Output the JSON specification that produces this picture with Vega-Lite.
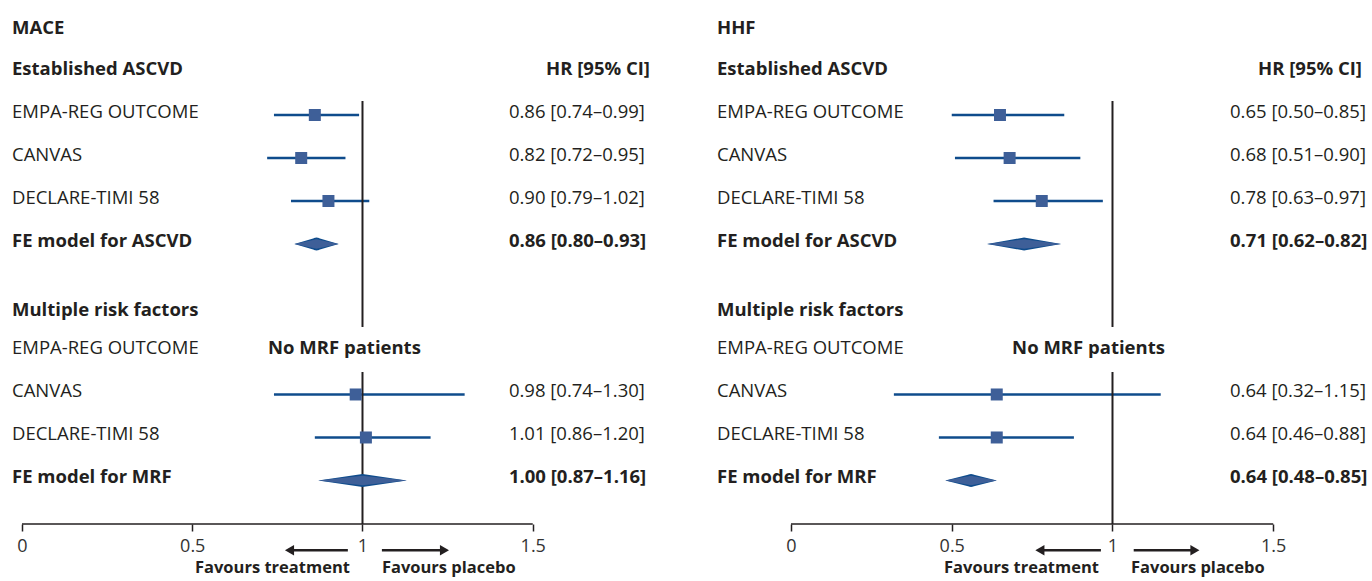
{
  "$schema": "https://vega.github.io/schema/vega-lite/v6.json",
  "padding": 0,
  "spacing": 0,
  "bounds": "flush",
  "background": "white",
  "config": {
    "view": {"stroke": null},
    "font": "Open Sans",
    "text": {"font": "Open Sans", "fontSize": 18.5, "color": "#231f20", "baseline": "middle"},
    "axisX": {"domain": false, "grid": false, "ticks": true, "tickSize": 7, "tickWidth": 1.5, "tickColor": "#231f20", "labelFont": "Open Sans", "labelFontSize": 18, "labelColor": "#333333", "labelPadding": 6, "labelFlush": false, "labelOverlap": false}
  },
  "datasets": {
    "labels": [
      {"outcome": "MACE", "row": 0.05, "text": "MACE", "kind": "title"},
      {"outcome": "MACE", "row": 1, "text": "Established ASCVD", "kind": "group"},
      {"outcome": "MACE", "row": 2, "text": "EMPA-REG OUTCOME", "kind": "study"},
      {"outcome": "MACE", "row": 3, "text": "CANVAS", "kind": "study"},
      {"outcome": "MACE", "row": 4, "text": "DECLARE-TIMI 58", "kind": "study"},
      {"outcome": "MACE", "row": 5, "text": "FE model for ASCVD", "kind": "pooled"},
      {"outcome": "MACE", "row": 6.6, "text": "Multiple risk factors", "kind": "group"},
      {"outcome": "MACE", "row": 7.5, "text": "EMPA-REG OUTCOME", "kind": "study"},
      {"outcome": "MACE", "row": 8.5, "text": "CANVAS", "kind": "study"},
      {"outcome": "MACE", "row": 9.5, "text": "DECLARE-TIMI 58", "kind": "study"},
      {"outcome": "MACE", "row": 10.5, "text": "FE model for MRF", "kind": "pooled"},
      {"outcome": "HHF", "row": 0.05, "text": "HHF", "kind": "title"},
      {"outcome": "HHF", "row": 1, "text": "Established ASCVD", "kind": "group"},
      {"outcome": "HHF", "row": 2, "text": "EMPA-REG OUTCOME", "kind": "study"},
      {"outcome": "HHF", "row": 3, "text": "CANVAS", "kind": "study"},
      {"outcome": "HHF", "row": 4, "text": "DECLARE-TIMI 58", "kind": "study"},
      {"outcome": "HHF", "row": 5, "text": "FE model for ASCVD", "kind": "pooled"},
      {"outcome": "HHF", "row": 6.6, "text": "Multiple risk factors", "kind": "group"},
      {"outcome": "HHF", "row": 7.5, "text": "EMPA-REG OUTCOME", "kind": "study"},
      {"outcome": "HHF", "row": 8.5, "text": "CANVAS", "kind": "study"},
      {"outcome": "HHF", "row": 9.5, "text": "DECLARE-TIMI 58", "kind": "study"},
      {"outcome": "HHF", "row": 10.5, "text": "FE model for MRF", "kind": "pooled"}
    ],
    "studies": [
      {"outcome": "MACE", "row": 2, "study": "EMPA-REG OUTCOME", "hr": 0.86, "lo": 0.74, "hi": 0.99, "ci": "0.86 [0.74–0.99]"},
      {"outcome": "MACE", "row": 3, "study": "CANVAS", "hr": 0.82, "lo": 0.72, "hi": 0.95, "ci": "0.82 [0.72–0.95]"},
      {"outcome": "MACE", "row": 4, "study": "DECLARE-TIMI 58", "hr": 0.90, "lo": 0.79, "hi": 1.02, "ci": "0.90 [0.79–1.02]"},
      {"outcome": "MACE", "row": 8.5, "study": "CANVAS", "hr": 0.98, "lo": 0.74, "hi": 1.30, "ci": "0.98 [0.74–1.30]"},
      {"outcome": "MACE", "row": 9.5, "study": "DECLARE-TIMI 58", "hr": 1.01, "lo": 0.86, "hi": 1.20, "ci": "1.01 [0.86–1.20]"},
      {"outcome": "HHF", "row": 2, "study": "EMPA-REG OUTCOME", "hr": 0.65, "lo": 0.50, "hi": 0.85, "ci": "0.65 [0.50–0.85]"},
      {"outcome": "HHF", "row": 3, "study": "CANVAS", "hr": 0.68, "lo": 0.51, "hi": 0.90, "ci": "0.68 [0.51–0.90]"},
      {"outcome": "HHF", "row": 4, "study": "DECLARE-TIMI 58", "hr": 0.78, "lo": 0.63, "hi": 0.97, "ci": "0.78 [0.63–0.97]"},
      {"outcome": "HHF", "row": 8.5, "study": "CANVAS", "hr": 0.64, "lo": 0.32, "hi": 1.15, "ci": "0.64 [0.32–1.15]"},
      {"outcome": "HHF", "row": 9.5, "study": "DECLARE-TIMI 58", "hr": 0.64, "lo": 0.46, "hi": 0.88, "ci": "0.64 [0.46–0.88]"}
    ],
    "pooled": [
      {"outcome": "MACE", "row": 5, "model": "FE model for ASCVD", "lo": 0.80, "est": 0.865, "hi": 0.93, "ci": "0.86 [0.80–0.93]"},
      {"outcome": "MACE", "row": 10.5, "model": "FE model for MRF", "lo": 0.87, "est": 1.00, "hi": 1.13, "ci": "1.00 [0.87–1.16]"},
      {"outcome": "HHF", "row": 5, "model": "FE model for ASCVD", "lo": 0.61, "est": 0.725, "hi": 0.84, "ci": "0.71 [0.62–0.82]"},
      {"outcome": "HHF", "row": 10.5, "model": "FE model for MRF", "lo": 0.48, "est": 0.56, "hi": 0.64, "ci": "0.64 [0.48–0.85]"}
    ]
  },
  "hconcat": [
    {
      "width": 686,
      "height": 524,
      "layer": [
        {"data": {"name": "studies"}, "transform": [{"filter": "datum.outcome === 'MACE'"}],
         "mark": {"type": "rule", "color": "#0f4c8c", "strokeWidth": 2.6},
         "encoding": {"x": {"field": "lo", "type": "quantitative", "scale": {"domain": [-0.0646, 1.9501], "nice": false, "zero": false}, "axis": {"values": [0, 0.5, 1, 1.5], "format": "~g", "title": null}},
                      "x2": {"field": "hi"},
                      "y": {"field": "row", "type": "quantitative", "scale": {"domain": [-0.674, 11.512], "reverse": true, "nice": false, "zero": false}, "axis": null}}},
        {"data": {"values": [{}]}, "mark": {"type": "rule", "color": "#231f20", "strokeWidth": 2},
         "encoding": {"x": {"datum": 1, "type": "quantitative", "scale": {"domain": [-0.0646, 1.9501], "nice": false, "zero": false}, "axis": {"values": [0, 0.5, 1, 1.5], "format": "~g", "title": null}},
                      "y": {"datum": 1.675, "type": "quantitative", "scale": {"domain": [-0.674, 11.512], "reverse": true, "nice": false, "zero": false}, "axis": null},
                      "y2": {"datum": 6.93}}},
        {"data": {"values": [{}]}, "mark": {"type": "rule", "color": "#231f20", "strokeWidth": 2},
         "encoding": {"x": {"datum": 1, "type": "quantitative", "scale": {"domain": [-0.0646, 1.9501], "nice": false, "zero": false}, "axis": {"values": [0, 0.5, 1, 1.5], "format": "~g", "title": null}},
                      "y": {"datum": 7.977, "type": "quantitative", "scale": {"domain": [-0.674, 11.512], "reverse": true, "nice": false, "zero": false}, "axis": null},
                      "y2": {"datum": 11.512}}},
        {"data": {"values": [{}]}, "mark": {"type": "rule", "color": "#231f20", "strokeWidth": 1.5},
         "encoding": {"x": {"datum": 0, "type": "quantitative", "scale": {"domain": [-0.0646, 1.9501], "nice": false, "zero": false}, "axis": {"values": [0, 0.5, 1, 1.5], "format": "~g", "title": null}},
                      "x2": {"datum": 1.5},
                      "y": {"datum": 11.512, "type": "quantitative", "scale": {"domain": [-0.674, 11.512], "reverse": true, "nice": false, "zero": false}, "axis": null}}},
        {"data": {"name": "studies"}, "transform": [{"filter": "datum.outcome === 'MACE'"}],
         "mark": {"type": "point", "shape": "square", "filled": true, "size": 144, "color": "#3e5f98", "opacity": 1},
         "encoding": {"x": {"field": "hr", "type": "quantitative", "scale": {"domain": [-0.0646, 1.9501], "nice": false, "zero": false}, "axis": {"values": [0, 0.5, 1, 1.5], "format": "~g", "title": null}},
                      "y": {"field": "row", "type": "quantitative", "scale": {"domain": [-0.674, 11.512], "reverse": true, "nice": false, "zero": false}, "axis": null}}},
        {"data": {"name": "pooled"}, "transform": [{"filter": "datum.outcome === 'MACE'"}, {"fold": ["lo", "est", "hi"], "as": ["key", "value"]}],
         "mark": {"type": "trail", "color": "#0f4c8c", "fill": "#0f4c8c"},
         "encoding": {"x": {"field": "value", "type": "quantitative", "scale": {"domain": [-0.0646, 1.9501], "nice": false, "zero": false}, "axis": {"values": [0, 0.5, 1, 1.5], "format": "~g", "title": null}},
                      "y": {"field": "row", "type": "quantitative", "scale": {"domain": [-0.674, 11.512], "reverse": true, "nice": false, "zero": false}, "axis": null},
                      "detail": {"field": "row", "type": "nominal"},
                      "size": {"condition": {"test": "datum.key === 'est'", "value": 13}, "value": 0.1}}},
        {"data": {"name": "pooled"}, "transform": [{"filter": "datum.outcome === 'MACE'"}, {"fold": ["lo", "est", "hi"], "as": ["key", "value"]}],
         "mark": {"type": "trail", "color": "#3e5f98", "fill": "#3e5f98"},
         "encoding": {"x": {"field": "value", "type": "quantitative", "scale": {"domain": [-0.0646, 1.9501], "nice": false, "zero": false}, "axis": {"values": [0, 0.5, 1, 1.5], "format": "~g", "title": null}},
                      "y": {"field": "row", "type": "quantitative", "scale": {"domain": [-0.674, 11.512], "reverse": true, "nice": false, "zero": false}, "axis": null},
                      "detail": {"field": "row", "type": "nominal"},
                      "size": {"condition": {"test": "datum.key === 'est'", "value": 9.5}, "value": 0.1}}},
        {"data": {"name": "labels"}, "transform": [{"filter": "datum.outcome === 'MACE' && datum.kind === 'study'"}],
         "mark": {"type": "text", "align": "left", "dy": -3},
         "encoding": {"x": {"datum": -0.0294, "type": "quantitative", "scale": {"domain": [-0.0646, 1.9501], "nice": false, "zero": false}, "axis": {"values": [0, 0.5, 1, 1.5], "format": "~g", "title": null}},
                      "y": {"field": "row", "type": "quantitative", "scale": {"domain": [-0.674, 11.512], "reverse": true, "nice": false, "zero": false}, "axis": null},
                      "text": {"field": "text"}}},
        {"data": {"name": "labels"}, "transform": [{"filter": "datum.outcome === 'MACE' && datum.kind !== 'study'"}],
         "mark": {"type": "text", "align": "left", "dy": -3, "fontWeight": "bold"},
         "encoding": {"x": {"datum": -0.0294, "type": "quantitative", "scale": {"domain": [-0.0646, 1.9501], "nice": false, "zero": false}, "axis": {"values": [0, 0.5, 1, 1.5], "format": "~g", "title": null}},
                      "y": {"field": "row", "type": "quantitative", "scale": {"domain": [-0.674, 11.512], "reverse": true, "nice": false, "zero": false}, "axis": null},
                      "text": {"field": "text"}}},
        {"data": {"name": "studies"}, "transform": [{"filter": "datum.outcome === 'MACE'"}],
         "mark": {"type": "text", "align": "left", "dy": -3},
         "encoding": {"x": {"datum": 1.430, "type": "quantitative", "scale": {"domain": [-0.0646, 1.9501], "nice": false, "zero": false}, "axis": {"values": [0, 0.5, 1, 1.5], "format": "~g", "title": null}},
                      "y": {"field": "row", "type": "quantitative", "scale": {"domain": [-0.674, 11.512], "reverse": true, "nice": false, "zero": false}, "axis": null},
                      "text": {"field": "ci"}}},
        {"data": {"name": "pooled"}, "transform": [{"filter": "datum.outcome === 'MACE'"}],
         "mark": {"type": "text", "align": "left", "dy": -3, "fontWeight": "bold"},
         "encoding": {"x": {"datum": 1.430, "type": "quantitative", "scale": {"domain": [-0.0646, 1.9501], "nice": false, "zero": false}, "axis": {"values": [0, 0.5, 1, 1.5], "format": "~g", "title": null}},
                      "y": {"field": "row", "type": "quantitative", "scale": {"domain": [-0.674, 11.512], "reverse": true, "nice": false, "zero": false}, "axis": null},
                      "text": {"field": "ci"}}},
        {"data": {"values": [{}]},
         "mark": {"type": "text", "align": "right", "dy": -3, "fontWeight": "bold", "text": "HR [95% CI]"},
         "encoding": {"x": {"datum": 1.8443, "type": "quantitative", "scale": {"domain": [-0.0646, 1.9501], "nice": false, "zero": false}, "axis": {"values": [0, 0.5, 1, 1.5], "format": "~g", "title": null}},
                      "y": {"datum": 1, "type": "quantitative", "scale": {"domain": [-0.674, 11.512], "reverse": true, "nice": false, "zero": false}, "axis": null}}},
        {"data": {"values": [{}]},
         "mark": {"type": "text", "align": "center", "dy": -3, "fontWeight": "bold", "text": "No MRF patients"},
         "encoding": {"x": {"datum": 0.947, "type": "quantitative", "scale": {"domain": [-0.0646, 1.9501], "nice": false, "zero": false}, "axis": {"values": [0, 0.5, 1, 1.5], "format": "~g", "title": null}},
                      "y": {"datum": 7.5, "type": "quantitative", "scale": {"domain": [-0.674, 11.512], "reverse": true, "nice": false, "zero": false}, "axis": null}}},
        {"data": {"values": [{}]}, "mark": {"type": "rule", "color": "#231f20", "strokeWidth": 2.5},
         "encoding": {"x": {"datum": 0.957, "type": "quantitative", "scale": {"domain": [-0.0646, 1.9501], "nice": false, "zero": false}, "axis": {"values": [0, 0.5, 1, 1.5], "format": "~g", "title": null}},
                      "x2": {"datum": 0.79},
                      "y": {"datum": 12.12, "type": "quantitative", "scale": {"domain": [-0.674, 11.512], "reverse": true, "nice": false, "zero": false}, "axis": null}}},
        {"data": {"values": [{}]}, "mark": {"type": "rule", "color": "#231f20", "strokeWidth": 2.5},
         "encoding": {"x": {"datum": 1.057, "type": "quantitative", "scale": {"domain": [-0.0646, 1.9501], "nice": false, "zero": false}, "axis": {"values": [0, 0.5, 1, 1.5], "format": "~g", "title": null}},
                      "x2": {"datum": 1.236},
                      "y": {"datum": 12.12, "type": "quantitative", "scale": {"domain": [-0.674, 11.512], "reverse": true, "nice": false, "zero": false}, "axis": null}}},
        {"data": {"values": [{}]}, "mark": {"type": "point", "shape": "triangle-left", "filled": true, "size": 110, "color": "#231f20", "opacity": 1},
         "encoding": {"x": {"datum": 0.7856, "type": "quantitative", "scale": {"domain": [-0.0646, 1.9501], "nice": false, "zero": false}, "axis": {"values": [0, 0.5, 1, 1.5], "format": "~g", "title": null}},
                      "y": {"datum": 12.12, "type": "quantitative", "scale": {"domain": [-0.674, 11.512], "reverse": true, "nice": false, "zero": false}, "axis": null}}},
        {"data": {"values": [{}]}, "mark": {"type": "point", "shape": "triangle-right", "filled": true, "size": 110, "color": "#231f20", "opacity": 1},
         "encoding": {"x": {"datum": 1.2408, "type": "quantitative", "scale": {"domain": [-0.0646, 1.9501], "nice": false, "zero": false}, "axis": {"values": [0, 0.5, 1, 1.5], "format": "~g", "title": null}},
                      "y": {"datum": 12.12, "type": "quantitative", "scale": {"domain": [-0.674, 11.512], "reverse": true, "nice": false, "zero": false}, "axis": null}}},
        {"data": {"values": [{}]},
         "mark": {"type": "text", "align": "right", "fontWeight": "bold", "fontSize": 16.5, "text": "Favours treatment"},
         "encoding": {"x": {"datum": 0.963, "type": "quantitative", "scale": {"domain": [-0.0646, 1.9501], "nice": false, "zero": false}, "axis": {"values": [0, 0.5, 1, 1.5], "format": "~g", "title": null}},
                      "y": {"datum": 12.53, "type": "quantitative", "scale": {"domain": [-0.674, 11.512], "reverse": true, "nice": false, "zero": false}, "axis": null}}},
        {"data": {"values": [{}]},
         "mark": {"type": "text", "align": "left", "fontWeight": "bold", "fontSize": 16.5, "text": "Favours placebo"},
         "encoding": {"x": {"datum": 1.057, "type": "quantitative", "scale": {"domain": [-0.0646, 1.9501], "nice": false, "zero": false}, "axis": {"values": [0, 0.5, 1, 1.5], "format": "~g", "title": null}},
                      "y": {"datum": 12.53, "type": "quantitative", "scale": {"domain": [-0.674, 11.512], "reverse": true, "nice": false, "zero": false}, "axis": null}}}
      ]
    },
    {
      "width": 686,
      "height": 524,
      "layer": [
        {"data": {"name": "studies"}, "transform": [{"filter": "datum.outcome === 'HHF'"}],
         "mark": {"type": "rule", "color": "#0f4c8c", "strokeWidth": 2.6},
         "encoding": {"x": {"field": "lo", "type": "quantitative", "scale": {"domain": [-0.3266, 1.8072], "nice": false, "zero": false}, "axis": {"values": [0, 0.5, 1, 1.5], "format": "~g", "title": null}},
                      "x2": {"field": "hi"},
                      "y": {"field": "row", "type": "quantitative", "scale": {"domain": [-0.674, 11.512], "reverse": true, "nice": false, "zero": false}, "axis": null}}},
        {"data": {"values": [{}]}, "mark": {"type": "rule", "color": "#231f20", "strokeWidth": 2},
         "encoding": {"x": {"datum": 1, "type": "quantitative", "scale": {"domain": [-0.3266, 1.8072], "nice": false, "zero": false}, "axis": {"values": [0, 0.5, 1, 1.5], "format": "~g", "title": null}},
                      "y": {"datum": 1.675, "type": "quantitative", "scale": {"domain": [-0.674, 11.512], "reverse": true, "nice": false, "zero": false}, "axis": null},
                      "y2": {"datum": 6.93}}},
        {"data": {"values": [{}]}, "mark": {"type": "rule", "color": "#231f20", "strokeWidth": 2},
         "encoding": {"x": {"datum": 1, "type": "quantitative", "scale": {"domain": [-0.3266, 1.8072], "nice": false, "zero": false}, "axis": {"values": [0, 0.5, 1, 1.5], "format": "~g", "title": null}},
                      "y": {"datum": 7.977, "type": "quantitative", "scale": {"domain": [-0.674, 11.512], "reverse": true, "nice": false, "zero": false}, "axis": null},
                      "y2": {"datum": 11.512}}},
        {"data": {"values": [{}]}, "mark": {"type": "rule", "color": "#231f20", "strokeWidth": 1.5},
         "encoding": {"x": {"datum": 0, "type": "quantitative", "scale": {"domain": [-0.3266, 1.8072], "nice": false, "zero": false}, "axis": {"values": [0, 0.5, 1, 1.5], "format": "~g", "title": null}},
                      "x2": {"datum": 1.5},
                      "y": {"datum": 11.512, "type": "quantitative", "scale": {"domain": [-0.674, 11.512], "reverse": true, "nice": false, "zero": false}, "axis": null}}},
        {"data": {"name": "studies"}, "transform": [{"filter": "datum.outcome === 'HHF'"}],
         "mark": {"type": "point", "shape": "square", "filled": true, "size": 144, "color": "#3e5f98", "opacity": 1},
         "encoding": {"x": {"field": "hr", "type": "quantitative", "scale": {"domain": [-0.3266, 1.8072], "nice": false, "zero": false}, "axis": {"values": [0, 0.5, 1, 1.5], "format": "~g", "title": null}},
                      "y": {"field": "row", "type": "quantitative", "scale": {"domain": [-0.674, 11.512], "reverse": true, "nice": false, "zero": false}, "axis": null}}},
        {"data": {"name": "pooled"}, "transform": [{"filter": "datum.outcome === 'HHF'"}, {"fold": ["lo", "est", "hi"], "as": ["key", "value"]}],
         "mark": {"type": "trail", "color": "#0f4c8c", "fill": "#0f4c8c"},
         "encoding": {"x": {"field": "value", "type": "quantitative", "scale": {"domain": [-0.3266, 1.8072], "nice": false, "zero": false}, "axis": {"values": [0, 0.5, 1, 1.5], "format": "~g", "title": null}},
                      "y": {"field": "row", "type": "quantitative", "scale": {"domain": [-0.674, 11.512], "reverse": true, "nice": false, "zero": false}, "axis": null},
                      "detail": {"field": "row", "type": "nominal"},
                      "size": {"condition": {"test": "datum.key === 'est'", "value": 13}, "value": 0.1}}},
        {"data": {"name": "pooled"}, "transform": [{"filter": "datum.outcome === 'HHF'"}, {"fold": ["lo", "est", "hi"], "as": ["key", "value"]}],
         "mark": {"type": "trail", "color": "#3e5f98", "fill": "#3e5f98"},
         "encoding": {"x": {"field": "value", "type": "quantitative", "scale": {"domain": [-0.3266, 1.8072], "nice": false, "zero": false}, "axis": {"values": [0, 0.5, 1, 1.5], "format": "~g", "title": null}},
                      "y": {"field": "row", "type": "quantitative", "scale": {"domain": [-0.674, 11.512], "reverse": true, "nice": false, "zero": false}, "axis": null},
                      "detail": {"field": "row", "type": "nominal"},
                      "size": {"condition": {"test": "datum.key === 'est'", "value": 9.5}, "value": 0.1}}},
        {"data": {"name": "labels"}, "transform": [{"filter": "datum.outcome === 'HHF' && datum.kind === 'study'"}],
         "mark": {"type": "text", "align": "left", "dy": -3},
         "encoding": {"x": {"datum": -0.2302, "type": "quantitative", "scale": {"domain": [-0.3266, 1.8072], "nice": false, "zero": false}, "axis": {"values": [0, 0.5, 1, 1.5], "format": "~g", "title": null}},
                      "y": {"field": "row", "type": "quantitative", "scale": {"domain": [-0.674, 11.512], "reverse": true, "nice": false, "zero": false}, "axis": null},
                      "text": {"field": "text"}}},
        {"data": {"name": "labels"}, "transform": [{"filter": "datum.outcome === 'HHF' && datum.kind !== 'study'"}],
         "mark": {"type": "text", "align": "left", "dy": -3, "fontWeight": "bold"},
         "encoding": {"x": {"datum": -0.2302, "type": "quantitative", "scale": {"domain": [-0.3266, 1.8072], "nice": false, "zero": false}, "axis": {"values": [0, 0.5, 1, 1.5], "format": "~g", "title": null}},
                      "y": {"field": "row", "type": "quantitative", "scale": {"domain": [-0.674, 11.512], "reverse": true, "nice": false, "zero": false}, "axis": null},
                      "text": {"field": "text"}}},
        {"data": {"name": "studies"}, "transform": [{"filter": "datum.outcome === 'HHF'"}],
         "mark": {"type": "text", "align": "left", "dy": -3},
         "encoding": {"x": {"datum": 1.3655, "type": "quantitative", "scale": {"domain": [-0.3266, 1.8072], "nice": false, "zero": false}, "axis": {"values": [0, 0.5, 1, 1.5], "format": "~g", "title": null}},
                      "y": {"field": "row", "type": "quantitative", "scale": {"domain": [-0.674, 11.512], "reverse": true, "nice": false, "zero": false}, "axis": null},
                      "text": {"field": "ci"}}},
        {"data": {"name": "pooled"}, "transform": [{"filter": "datum.outcome === 'HHF'"}],
         "mark": {"type": "text", "align": "left", "dy": -3, "fontWeight": "bold"},
         "encoding": {"x": {"datum": 1.3655, "type": "quantitative", "scale": {"domain": [-0.3266, 1.8072], "nice": false, "zero": false}, "axis": {"values": [0, 0.5, 1, 1.5], "format": "~g", "title": null}},
                      "y": {"field": "row", "type": "quantitative", "scale": {"domain": [-0.674, 11.512], "reverse": true, "nice": false, "zero": false}, "axis": null},
                      "text": {"field": "ci"}}},
        {"data": {"values": [{}]},
         "mark": {"type": "text", "align": "right", "dy": -3, "fontWeight": "bold", "text": "HR [95% CI]"},
         "encoding": {"x": {"datum": 1.776, "type": "quantitative", "scale": {"domain": [-0.3266, 1.8072], "nice": false, "zero": false}, "axis": {"values": [0, 0.5, 1, 1.5], "format": "~g", "title": null}},
                      "y": {"datum": 1, "type": "quantitative", "scale": {"domain": [-0.674, 11.512], "reverse": true, "nice": false, "zero": false}, "axis": null}}},
        {"data": {"values": [{}]},
         "mark": {"type": "text", "align": "center", "dy": -3, "fontWeight": "bold", "text": "No MRF patients"},
         "encoding": {"x": {"datum": 0.9253, "type": "quantitative", "scale": {"domain": [-0.3266, 1.8072], "nice": false, "zero": false}, "axis": {"values": [0, 0.5, 1, 1.5], "format": "~g", "title": null}},
                      "y": {"datum": 7.5, "type": "quantitative", "scale": {"domain": [-0.674, 11.512], "reverse": true, "nice": false, "zero": false}, "axis": null}}},
        {"data": {"values": [{}]}, "mark": {"type": "rule", "color": "#231f20", "strokeWidth": 2.5},
         "encoding": {"x": {"datum": 0.964, "type": "quantitative", "scale": {"domain": [-0.3266, 1.8072], "nice": false, "zero": false}, "axis": {"values": [0, 0.5, 1, 1.5], "format": "~g", "title": null}},
                      "x2": {"datum": 0.778},
                      "y": {"datum": 12.12, "type": "quantitative", "scale": {"domain": [-0.674, 11.512], "reverse": true, "nice": false, "zero": false}, "axis": null}}},
        {"data": {"values": [{}]}, "mark": {"type": "rule", "color": "#231f20", "strokeWidth": 2.5},
         "encoding": {"x": {"datum": 1.066, "type": "quantitative", "scale": {"domain": [-0.3266, 1.8072], "nice": false, "zero": false}, "axis": {"values": [0, 0.5, 1, 1.5], "format": "~g", "title": null}},
                      "x2": {"datum": 1.252},
                      "y": {"datum": 12.12, "type": "quantitative", "scale": {"domain": [-0.674, 11.512], "reverse": true, "nice": false, "zero": false}, "axis": null}}},
        {"data": {"values": [{}]}, "mark": {"type": "point", "shape": "triangle-left", "filled": true, "size": 110, "color": "#231f20", "opacity": 1},
         "encoding": {"x": {"datum": 0.7742, "type": "quantitative", "scale": {"domain": [-0.3266, 1.8072], "nice": false, "zero": false}, "axis": {"values": [0, 0.5, 1, 1.5], "format": "~g", "title": null}},
                      "y": {"datum": 12.12, "type": "quantitative", "scale": {"domain": [-0.674, 11.512], "reverse": true, "nice": false, "zero": false}, "axis": null}}},
        {"data": {"values": [{}]}, "mark": {"type": "point", "shape": "triangle-right", "filled": true, "size": 110, "color": "#231f20", "opacity": 1},
         "encoding": {"x": {"datum": 1.2563, "type": "quantitative", "scale": {"domain": [-0.3266, 1.8072], "nice": false, "zero": false}, "axis": {"values": [0, 0.5, 1, 1.5], "format": "~g", "title": null}},
                      "y": {"datum": 12.12, "type": "quantitative", "scale": {"domain": [-0.674, 11.512], "reverse": true, "nice": false, "zero": false}, "axis": null}}},
        {"data": {"values": [{}]},
         "mark": {"type": "text", "align": "right", "fontWeight": "bold", "fontSize": 16.5, "text": "Favours treatment"},
         "encoding": {"x": {"datum": 0.958, "type": "quantitative", "scale": {"domain": [-0.3266, 1.8072], "nice": false, "zero": false}, "axis": {"values": [0, 0.5, 1, 1.5], "format": "~g", "title": null}},
                      "y": {"datum": 12.53, "type": "quantitative", "scale": {"domain": [-0.674, 11.512], "reverse": true, "nice": false, "zero": false}, "axis": null}}},
        {"data": {"values": [{}]},
         "mark": {"type": "text", "align": "left", "fontWeight": "bold", "fontSize": 16.5, "text": "Favours placebo"},
         "encoding": {"x": {"datum": 1.0575, "type": "quantitative", "scale": {"domain": [-0.3266, 1.8072], "nice": false, "zero": false}, "axis": {"values": [0, 0.5, 1, 1.5], "format": "~g", "title": null}},
                      "y": {"datum": 12.53, "type": "quantitative", "scale": {"domain": [-0.674, 11.512], "reverse": true, "nice": false, "zero": false}, "axis": null}}}
      ]
    }
  ]
}
